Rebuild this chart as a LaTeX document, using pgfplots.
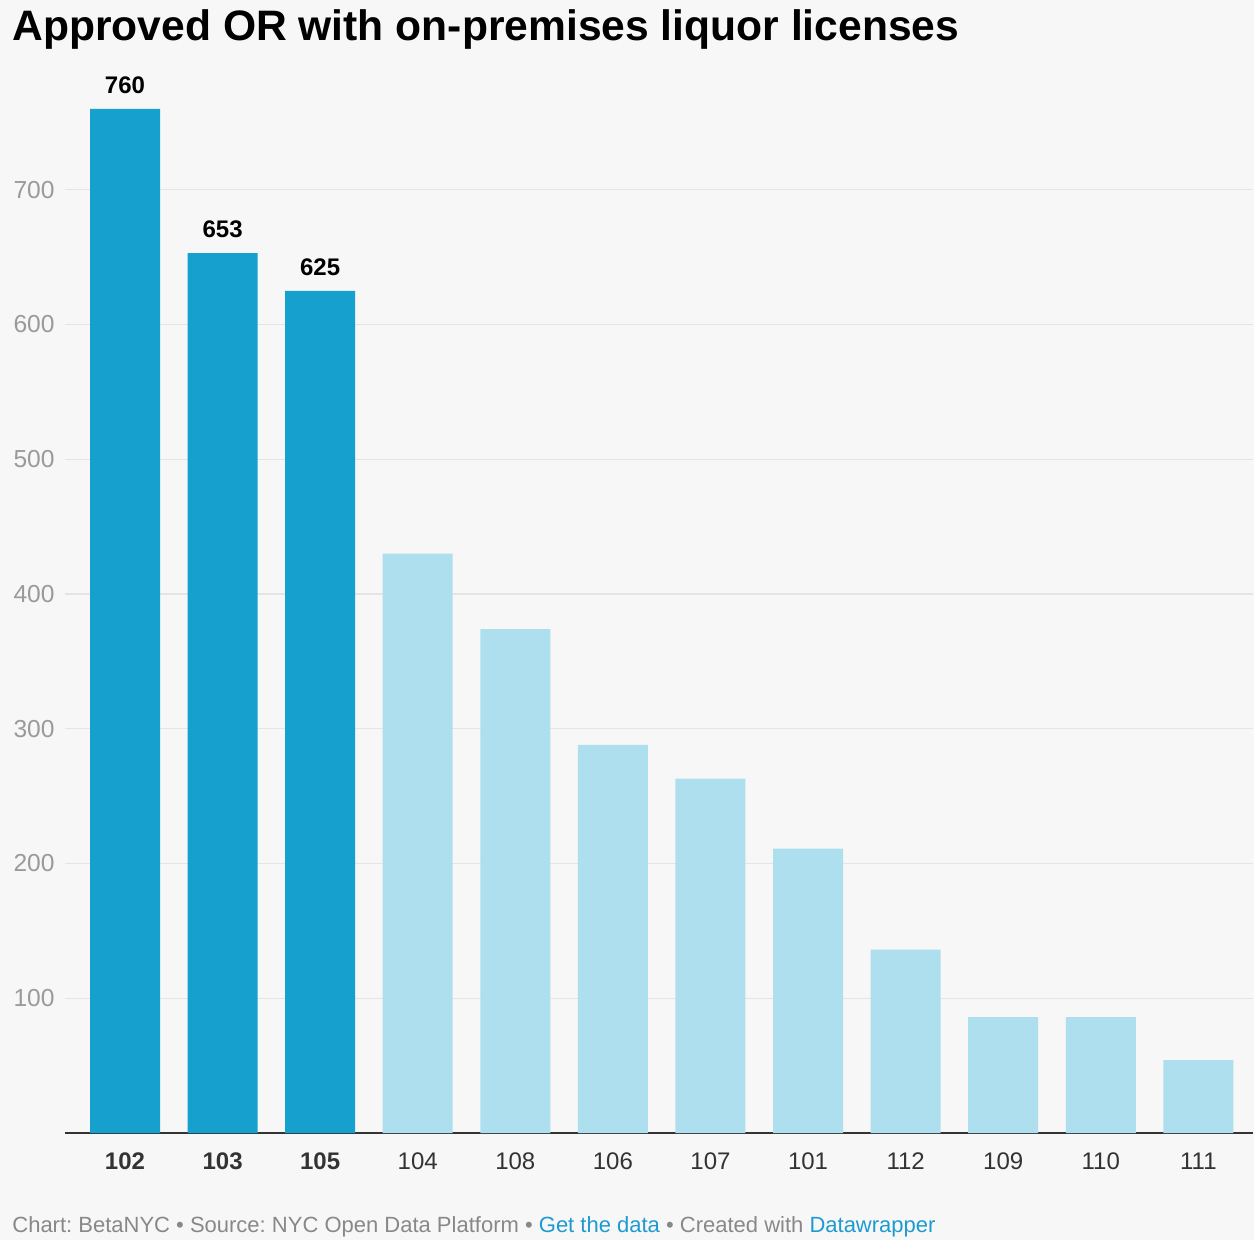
\documentclass[border=0pt]{standalone}
\usepackage{pgfplots}
\pgfplotsset{compat=1.18}
\usepackage{fontspec}
\setmainfont{Liberation Sans}
\frenchspacing
\definecolor{bgcol}{HTML}{F7F7F7}
\definecolor{darkbar}{HTML}{15A0CE}
\definecolor{lightbar}{HTML}{AEDFEE}
\definecolor{gridc}{HTML}{E4E4E4}
\definecolor{ticky}{HTML}{9A9A9A}
\definecolor{tickx}{HTML}{333333}
\definecolor{footc}{HTML}{888888}
\definecolor{linkc}{HTML}{1D9BD1}
\begin{document}
\begin{tikzpicture}
\fill[bgcol] (0,0) rectangle (627pt,-620pt);
\useasboundingbox (0,0) rectangle (627pt,-620pt);
\node[anchor=base west, inner sep=0pt, font=\bfseries\fontsize{21.3}{24}\selectfont] at (6pt,-20.5pt) {Approved OR with on-premises liquor licenses};
\begin{axis}[
  at={(32.5pt,-566.5pt)}, anchor=south west,
  scale only axis, width=594pt, height=539pt,
  xmin=-0.615, xmax=11.56, ymin=0, ymax=800,
  axis x line*=bottom, axis y line*=left,
  separate axis lines,
  x axis line style={draw=black!80, line width=1pt},
  y axis line style={draw=none},
  tick style={draw=none},
  ytick={100,200,300,400,500,600,700},
  ymajorgrids, grid style={gridc, line width=0.6pt},
  xtick={0,1,2,3,4,5,6,7,8,9,10,11},
  xticklabels={\textbf{102},\textbf{103},\textbf{105},104,108,106,107,101,112,109,110,111},
  xticklabel style={font=\fontsize{12}{14}\selectfont, text=tickx, yshift=-2pt},
  yticklabel style={font=\fontsize{12.3}{14}\selectfont, text=ticky, inner sep=0pt, xshift=-5pt},
  /pgf/number format/assume math mode=true,
  ybar, bar width=35pt,
]
\addplot[fill=darkbar, draw=none, bar shift=0pt,
  nodes near coords, nodes near coords style={font=\bfseries\fontsize{12}{14}\selectfont, text=black, yshift=4pt}]
  coordinates {(0,760) (1,653) (2,625)};
\addplot[fill=lightbar, draw=none, bar shift=0pt]
  coordinates {(3,430) (4,374) (5,288) (6,263) (7,211) (8,136) (9,86) (10,86) (11,54)};
\end{axis}
\node[anchor=base west, inner sep=0pt, font=\fontsize{11}{13}\selectfont, text=footc] at (6pt,-616pt)
  {Chart: BetaNYC \textbullet{} Source: NYC Open Data Platform \textbullet{} \textcolor{linkc}{Get the data} \textbullet{} Created with \textcolor{linkc}{Datawrapper}};
\end{tikzpicture}
\end{document}
